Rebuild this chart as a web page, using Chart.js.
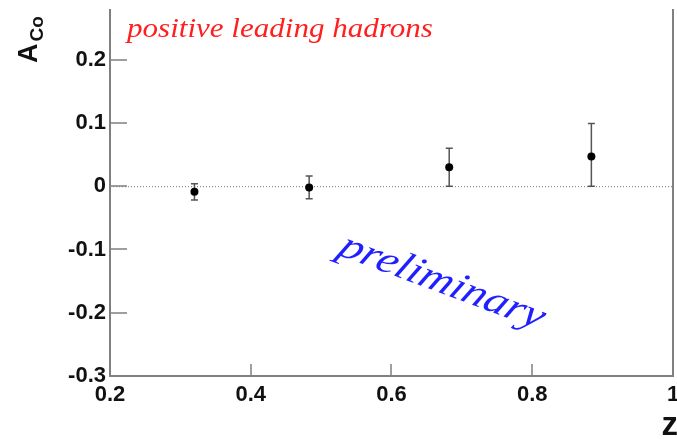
<!DOCTYPE html>
<html>
<head>
<meta charset="utf-8">
<script src="https://cdn.jsdelivr.net/npm/chart.js@4/dist/chart.umd.min.js"></script>
<style>
	html, body { margin: 0; padding: 0; background: #fff; }
	#wrap { width: 677px; height: 439px; position: relative; }
</style>
</head>
<body>
<div id="wrap"><canvas id="chart"></canvas></div>
<script>
"use strict";

// Collins asymmetry vs z, positive leading hadrons
const zBins = [0.32, 0.483, 0.682, 0.884];
const aCollins = [-0.009, -0.002, 0.030, 0.047];
const errDown = [0.013, 0.018, 0.030, 0.047];
const errUp = [0.013, 0.018, 0.030, 0.052];

const xTicks = [0.2, 0.4, 0.6, 0.8, 1.0];
const yTicks = [-0.3, -0.2, -0.1, 0, 0.1, 0.2];
const xRange = [0.2, 1.0];
const yRange = [-0.3, 0.28];

const axisGrey = '#808080';
const tickFont = { family: '"Liberation Sans"', size: 22, weight: 'bold' };

function fmt(v) {
	return String(Number(v.toFixed(1)));
}

// frame, inward ticks and the dotted zero line
const framePlugin = {
	id: 'frame',
	beforeDatasetsDraw(chart) {
		const { ctx, chartArea: a, scales: { x, y } } = chart;
		ctx.save();

		// zero line
		const y0 = y.getPixelForValue(0);
		ctx.strokeStyle = '#777';
		ctx.lineWidth = 1;
		ctx.setLineDash([1, 2]);
		ctx.beginPath();
		ctx.moveTo(a.left, y0 + 0.5);
		ctx.lineTo(a.right, y0 + 0.5);
		ctx.stroke();
		ctx.setLineDash([]);

		ctx.strokeStyle = axisGrey;
		ctx.lineWidth = 2;
		ctx.beginPath();
		ctx.moveTo(a.left, a.top);
		ctx.lineTo(a.left, a.bottom);
		ctx.lineTo(a.right, a.bottom);
		ctx.lineTo(a.right, a.top);
		ctx.stroke();

		ctx.lineWidth = 1.5;
		ctx.beginPath();
		yTicks.forEach((v) => {
			const py = Math.round(y.getPixelForValue(v));
			ctx.moveTo(a.left, py);
			ctx.lineTo(a.left + 17, py);
		});
		xTicks.forEach((v) => {
			const px = Math.round(x.getPixelForValue(v));
			ctx.moveTo(px, a.bottom);
			ctx.lineTo(px, a.bottom - 12);
		});
		ctx.stroke();
		ctx.restore();
	}
};

// vertical error bars with small caps
const errorBarPlugin = {
	id: 'errorBars',
	beforeDatasetsDraw(chart) {
		const { ctx, scales: { x, y } } = chart;
		ctx.save();
		ctx.strokeStyle = '#555';
		ctx.lineWidth = 1.5;
		zBins.forEach((z, i) => {
			const px = x.getPixelForValue(z);
			const top = y.getPixelForValue(aCollins[i] + errUp[i]);
			const bot = y.getPixelForValue(aCollins[i] - errDown[i]);
			ctx.beginPath();
			ctx.moveTo(px, top);
			ctx.lineTo(px, bot);
			ctx.moveTo(px - 3.5, top);
			ctx.lineTo(px + 3.5, top);
			ctx.moveTo(px - 3.5, bot);
			ctx.lineTo(px + 3.5, bot);
			ctx.stroke();
		});
		ctx.restore();
	}
};

// axis titles and labels on the pad
const textPlugin = {
	id: 'texts',
	afterDraw(chart) {
		const ctx = chart.ctx;

		ctx.save();
		ctx.fillStyle = '#111';
		ctx.textBaseline = 'alphabetic';
		ctx.translate(37, 63);
		ctx.rotate(-Math.PI / 2);
		ctx.font = 'bold 27px "Liberation Sans"';
		ctx.fillText('A', 0, 0);
		const w = ctx.measureText('A').width;
		ctx.font = 'bold 19px "Liberation Sans"';
		ctx.fillText('Co', w + 2, 6);
		ctx.restore();

		ctx.save();
		ctx.fillStyle = '#111';
		ctx.font = 'bold 33px "Liberation Sans"';
		ctx.textAlign = 'right';
		ctx.textBaseline = 'alphabetic';
		ctx.fillText('z', 678, 435);
		ctx.restore();

		ctx.save();
		ctx.fillStyle = '#ff1f1f';
		ctx.font = 'italic 27px "Liberation Serif"';
		ctx.textBaseline = 'alphabetic';
		ctx.translate(127, 37);
		ctx.scale(1.15, 1);
		ctx.fillText('positive leading hadrons', 0, 0);
		ctx.restore();

		ctx.save();
		ctx.fillStyle = '#1f1fff';
		ctx.font = 'italic 38px "Liberation Serif"';
		ctx.textBaseline = 'alphabetic';
		ctx.translate(336, 254);
		ctx.scale(1.25, 1);
		ctx.rotate(25 * Math.PI / 180);
		ctx.fillText('preliminary', 0, 0);
		ctx.restore();
	}
};

new Chart(document.getElementById('chart'), {
	type: 'scatter',
	data: {
		datasets: [{
			data: zBins.map((z, i) => ({ x: z, y: aCollins[i] })),
			backgroundColor: '#000',
			borderWidth: 0,
			pointRadius: 4,
			pointHoverRadius: 4
		}]
	},
	options: {
		responsive: true,
		maintainAspectRatio: false,
		animation: false,
		layout: { padding: { top: 9, right: 2, left: 0, bottom: 0 } },
		plugins: {
			legend: { display: false },
			tooltip: { enabled: false }
		},
		scales: {
			x: {
				type: 'linear',
				min: xRange[0],
				max: xRange[1],
				afterBuildTicks(scale) {
					scale.ticks = xTicks.map((v) => ({ value: v }));
				},
				afterFit(scale) {
					scale.height = 63;
					scale.paddingLeft = 0;
					scale.paddingRight = 0;
				},
				grid: { display: false, drawTicks: false },
				border: { display: false },
				ticks: {
					padding: 6,
					autoSkip: false,
					maxRotation: 0,
					color: '#111',
					font: tickFont,
					callback: (v) => fmt(v)
				}
			},
			y: {
				type: 'linear',
				min: yRange[0],
				max: yRange[1],
				afterBuildTicks(scale) {
					scale.ticks = yTicks.map((v) => ({ value: v }));
				},
				afterFit(scale) {
					scale.width = 110;
					scale.paddingTop = 0;
					scale.paddingBottom = 0;
				},
				grid: { display: false, drawTicks: false },
				border: { display: false },
				ticks: {
					padding: 4,
					autoSkip: false,
					color: '#111',
					font: tickFont,
					callback: (v) => fmt(v)
				}
			}
		}
	},
	plugins: [framePlugin, errorBarPlugin, textPlugin]
});
</script>
</body>
</html>
